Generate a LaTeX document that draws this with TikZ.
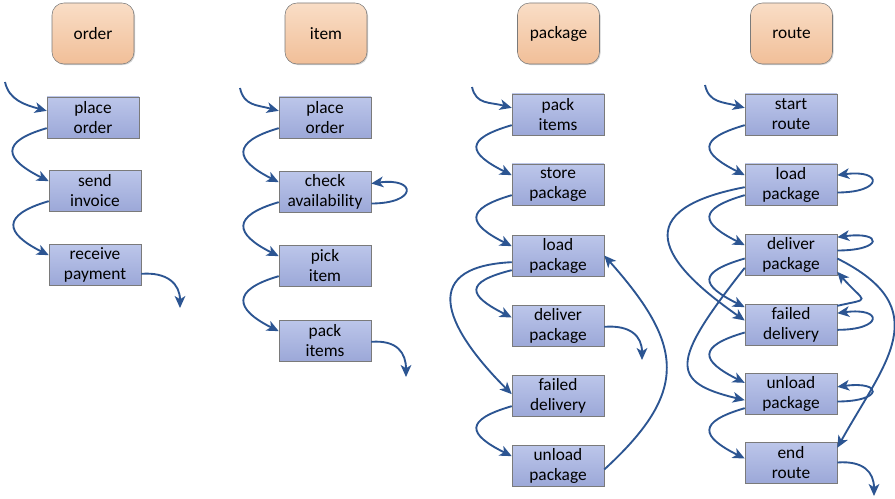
\documentclass[tikz,border=0pt]{standalone}
\usepackage{fontspec}
\setmainfont{Carlito}
\usepackage{tikz}
\usetikzlibrary{arrows.meta, shadows}
\definecolor{tasktop}{HTML}{BCC6EA}
\definecolor{taskbot}{HTML}{9CA8D8}
\definecolor{enttop}{HTML}{F9DDC6}
\definecolor{entbot}{HTML}{F1BF98}
\definecolor{framegray}{HTML}{7A7A7A}
\definecolor{flowblue}{HTML}{2C5592}

\begin{document}
\begin{tikzpicture}[
    x=0.75pt, y=-0.75pt,
    entity/.style={draw=framegray, rounded corners=9pt, top color=enttop, bottom color=entbot, minimum width=61.5pt, minimum height=45.75pt, font=\fontsize{13}{15}\selectfont, drop shadow={shadow xshift=0.8pt, shadow yshift=-0.8pt, opacity=0.3, fill=black!60}},
    task/.style={draw=framegray, top color=tasktop, bottom color=taskbot, minimum width=69pt, minimum height=30.75pt, inner sep=1pt, align=center, font=\fontsize{13}{15}\selectfont, drop shadow={shadow xshift=0.8pt, shadow yshift=-0.8pt, opacity=0.35, fill=black!60}},
    flow/.style={draw=flowblue, line width=1.4pt, -{Stealth[length=9pt, width=8pt, inset=2.5pt]}},
]
    \useasboundingbox (0,0) rectangle (895,499);

    % lifecycle headers
    \node[entity] (ord) at (93,33.5) {order};
    \node[entity] (itm) at (326,33.5) {item};
    \node[entity] (pkg) at (558.5,33.5) {package};
    \node[entity] (rte) at (791.5,33.5) {route};

    % order
    \node[task] (o1) at (93,117.5) {place\\order};
    \node[task] (o2) at (95,190.5) {send\\invoice};
    \node[task] (o3) at (95,264.5) {receive\\payment};

    % item
    \node[task] (i1) at (325,117.5) {place\\order};
    \node[task] (i2) at (325,191.5) {check\\availability};
    \node[task] (i3) at (325,265.5) {pick\\item};
    \node[task] (i4) at (325,340.5) {pack\\items};

    % package
    \node[task] (p1) at (558,114.5) {pack\\items};
    \node[task] (p2) at (558,184.5) {store\\package};
    \node[task] (p3) at (558,255.5) {load\\package};
    \node[task] (p4) at (558,325.5) {deliver\\package};
    \node[task] (p5) at (558,395.5) {failed\\delivery};
    \node[task] (p6) at (558,465.5) {unload\\package};

    % route
    \node[task] (r1) at (791,114.5) {start\\route};
    \node[task] (r2) at (791,184.5) {load\\package};
    \node[task] (r3) at (791,254.5) {deliver\\package};
    \node[task] (r4) at (791,324.5) {failed\\delivery};
    \node[task] (r5) at (791,393.5) {unload\\package};
    \node[task] (r6) at (791,462.5) {end\\route};

    \coordinate (oIn) at (5,82);    \coordinate (oOut) at (180,308);
    \coordinate (iIn) at (240,88);  \coordinate (iOut) at (406,377);
    \coordinate (pIn) at (472,87);  \coordinate (pOut) at (642,360);
    \coordinate (rIn) at (705,85);  \coordinate (rOut) at (874,496);

    % start and end of each lifecycle
    \foreach \c/\n in {oIn/o1, iIn/i1, pIn/p1, rIn/r1}
        \draw[flow] (\c) .. controls +(4,18) and +(-22,-6) .. ([yshift=5pt]\n.west);
    \foreach \n/\c/\s in {o3/oOut/-7, i4/iOut/-1, p4/pOut/-1, r6/rOut/0}
        \draw[flow] ([yshift=\s pt]\n.east) .. controls +(26,-2) and +(0,-24) .. (\c);

    % next step
    \foreach \a/\b in {o1/o2, o2/o3, i1/i2, i2/i3, i3/i4, p1/p2, p2/p3, p5/p6, r1/r2, r2/r3}
        \draw[flow] ([yshift=-8pt]\a.west) .. controls +(-48,14) and +(-44,-22) .. ([yshift=7pt]\b.west);
    \draw[flow] ([yshift=-11pt]p3.west) .. controls +(-48,12) and +(-44,-22) .. ([yshift=6pt]p4.west);
    \draw[flow] ([yshift=-3pt]r3.west) .. controls +(-48,14) and +(-44,-22) .. ([yshift=13pt]r4.west);
    \draw[flow] ([yshift=-6pt]r4.west) .. controls +(-48,14) and +(-44,-22) .. ([yshift=8pt]r5.west);
    \draw[flow] ([yshift=-11pt]r5.west) .. controls +(-48,14) and +(-44,-22) .. ([yshift=3pt]r6.west);

    % skips and returns
    \draw[flow] ([yshift=-5pt]p3.west) .. controls +(-100,5) and +(-60,-60) .. ([yshift=1pt]p5.west);
    \draw[flow] ([yshift=-3pt]p6.east) .. controls +(85,-78) and +(80,90) .. (p3.east);
    \draw[flow] ([yshift=-2pt]r2.west) .. controls +(-130,25) and +(-70,-49) .. ([yshift=3pt]r4.west);
    \draw[flow] ([yshift=-10pt]r3.west) .. controls +(-75,95) and +(-75,-18) .. ([yshift=-5pt]r5.west);
    \draw[flow] ([yshift=14pt]r4.east) .. controls +(35,-8) and +(28,32) .. ([yshift=-13pt]r3.east);
    \draw[flow] ([yshift=-3pt]r3.east) .. controls +(100,50) and +(48,-86) .. ([yshift=11pt]r6.east);

    % repeat the same step
    \foreach \n/\s/\e in {i2/-9/6, r2/-6/7, r3/3/13, r4/-4/8.5, r5/-6/5}
        \draw[flow] ([yshift=\s pt]\n.east) .. controls +(46,0) and +(46,-6) .. ([yshift=\e pt]\n.east);
\end{tikzpicture}
\end{document}
